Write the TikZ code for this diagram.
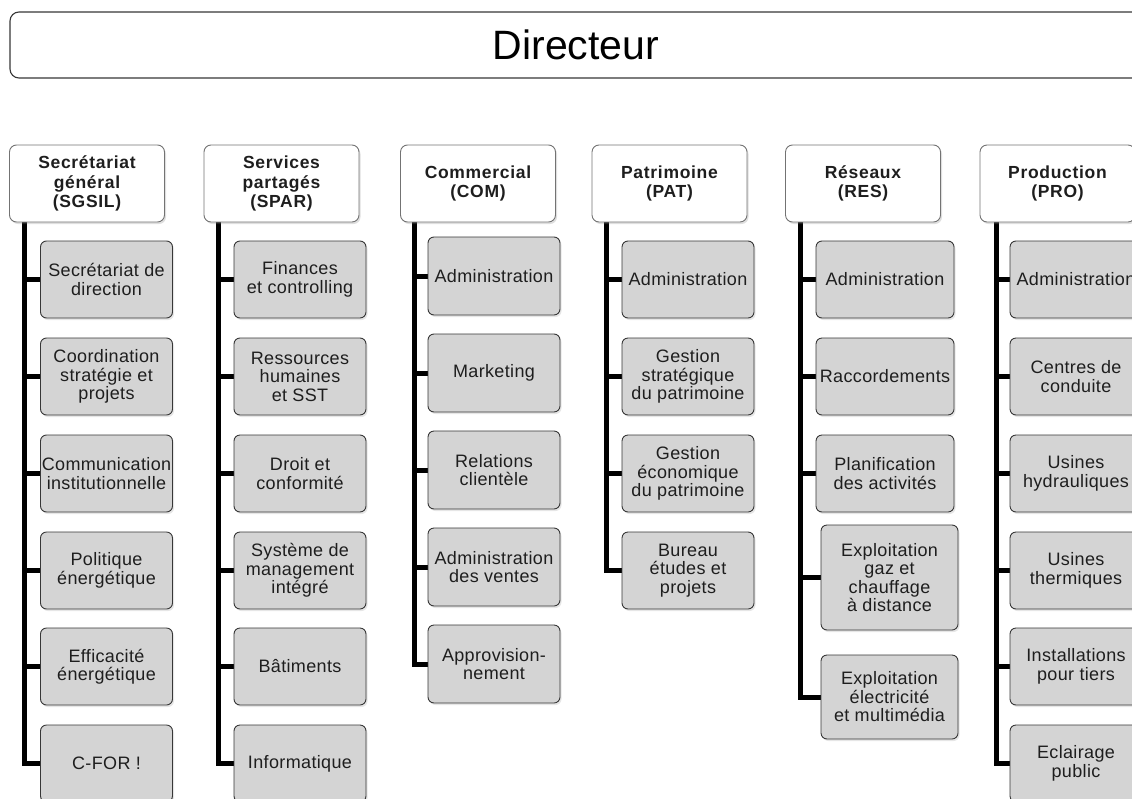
\documentclass[tikz,border=0pt]{standalone}
\usepackage{fontspec}
\setmainfont{Liberation Sans}
\newfontfamily\hdfont[LetterSpace=4]{Liberation Sans}
\newfontfamily\subfont[LetterSpace=2]{Liberation Sans}
\usetikzlibrary{shadows,backgrounds}
\definecolor{boxgray}{RGB}{212,212,212}
\definecolor{edgegray}{RGB}{55,55,55}
\definecolor{txt}{RGB}{30,30,30}
\begin{document}
\begin{tikzpicture}[x=1pt,y=-1pt,
  dirbox/.style={draw=edgegray, line width=1.1pt, rounded corners=9pt, fill=white,
    minimum width=1132pt, minimum height=66pt, inner sep=0pt,
    font=\fontsize{41}{45}\selectfont, text=black},
  head/.style={draw=black!55, line width=0.9pt, rounded corners=7pt, fill=white,
    minimum width=155pt, minimum height=77pt, inner sep=0pt, align=center,
    font=\hdfont\bfseries\fontsize{17.5}{19.5}\selectfont, text=txt,
    drop shadow={opacity=0.25, shadow xshift=1.5pt, shadow yshift=-2pt}},
  sub/.style={draw=edgegray, line width=0.9pt, rounded corners=6pt, fill=boxgray,
    minimum width=132pt, minimum height=77pt, inner sep=0pt, align=center,
    font=\subfont\fontsize{18}{18.5}\selectfont, text=txt,
    drop shadow={opacity=0.2, shadow xshift=1.5pt, shadow yshift=-2pt}},
  conn/.style={line width=5pt, draw=black}]
\useasboundingbox (0,0) rectangle (1132,798);
\clip (0,0) rectangle (1132,798);

\node[dirbox] (d) at (576,45) {Directeur};

% headers
\node[head] (h1) at (87,183.5)   {Secrétariat\\général\\(SGSIL)};
\node[head] (h2) at (281.5,183.5) {Services\\partagés\\(SPAR)};
\node[head] (h3) at (478,183.5)  {Commercial\\(COM)};
\node[head] (h4) at (669.5,183.5) {Patrimoine\\(PAT)};
\node[head] (h5) at (863,183.5)  {Réseaux\\(RES)};
\node[head] (h6) at (1057.5,183.5) {Production\\(PRO)};

% column 1
\node[sub] (c11) at (106.5,279.5) {Secrétariat de\\direction};
\node[sub] (c12) at (106.5,376.5) {Coordination\\stratégie et\\projets};
\node[sub] (c13) at (106.5,473.5) {Communication\\institutionnelle};
\node[sub] (c14) at (106.5,570.5) {Politique\\énergétique};
\node[sub] (c15) at (106.5,666.5) {Efficacité\\énergétique};
\node[sub] (c16) at (106.5,763.5) {C-FOR !};

% column 2
\node[sub] (c21) at (300,279.5) {Finances\\et controlling};
\node[sub] (c22) at (300,376.5) {Ressources\\humaines\\et SST};
\node[sub] (c23) at (300,473.5) {Droit et\\conformité};
\node[sub] (c24) at (300,570.5) {Système de\\management\\intégré};
\node[sub] (c25) at (300,666.5) {Bâtiments};
\node[sub] (c26) at (300,763.5) {Informatique};

% column 3
\node[sub, minimum height=78pt] (c31) at (494,276) {Administration};
\node[sub, minimum height=78pt] (c32) at (494,373) {Marketing};
\node[sub, minimum height=78pt] (c33) at (494,470) {Relations\\clientèle};
\node[sub, minimum height=78pt] (c34) at (494,567) {Administration\\des ventes};
\node[sub, minimum height=78pt] (c35) at (494,664) {Approvision-\\nement};

% column 4
\node[sub] (c41) at (688,279.5) {Administration};
\node[sub] (c42) at (688,376.5) {Gestion\\stratégique\\du patrimoine};
\node[sub] (c43) at (688,473.5) {Gestion\\économique\\du patrimoine};
\node[sub] (c44) at (688,570.5) {Bureau\\études et\\projets};

% column 5
\node[sub, minimum width=138pt] (c51) at (885,279.5) {Administration};
\node[sub, minimum width=138pt] (c52) at (885,376.5) {Raccordements};
\node[sub, minimum width=138pt] (c53) at (885,473.5) {Planification\\des activités};
\node[sub, minimum width=137pt, minimum height=105pt] (c54) at (889.5,577.5) {Exploitation\\gaz et\\chauffage\\à distance};
\node[sub, minimum width=137pt, minimum height=84pt] (c55) at (889.5,697) {Exploitation\\électricité\\et multimédia};

% column 6
\node[sub] (c61) at (1076,279.5) {Administration};
\node[sub] (c62) at (1076,376.5) {Centres de\\conduite};
\node[sub] (c63) at (1076,473.5) {Usines\\hydrauliques};
\node[sub] (c64) at (1076,570.5) {Usines\\thermiques};
\node[sub] (c65) at (1076,666.5) {Installations\\pour tiers};
\node[sub] (c66) at (1076,763.5) {Eclairage\\public};

\begin{scope}[on background layer]
\foreach \c/\o/\n in {1/15/6,2/15/6,3/14/5,4/15/4,5/15/5,6/17/6}{
  \foreach \i in {1,...,\n}{
    \draw[conn] ([xshift=\o pt]h\c.south west) |- (c\c\i.west);
  }
}
\end{scope}
\end{tikzpicture}
\end{document}
